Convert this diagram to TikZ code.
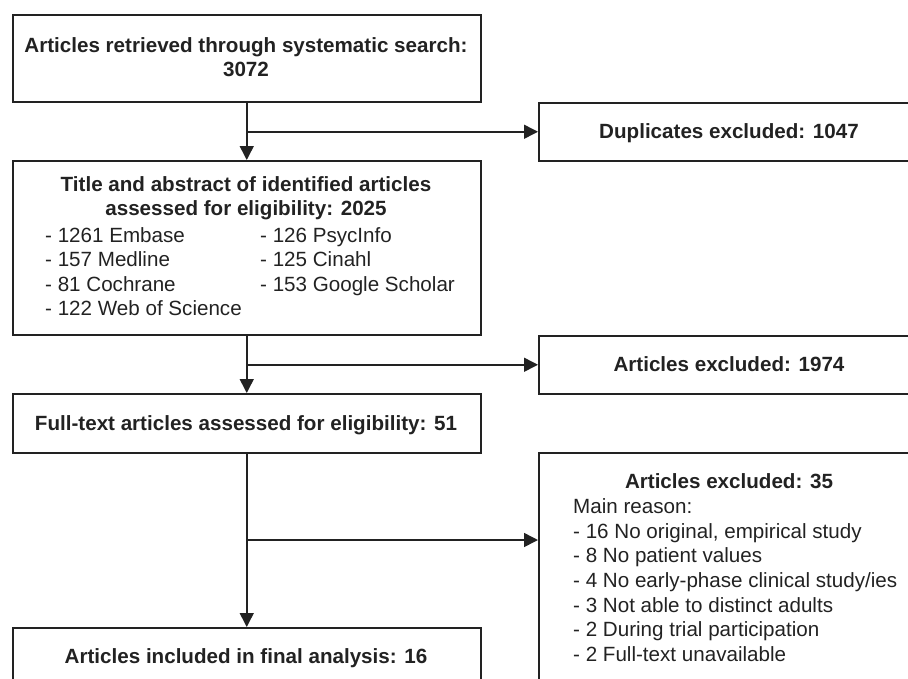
\documentclass[tikz,border=0pt]{standalone}
\usepackage{fontspec}
\setmainfont{Liberation Sans}
\usetikzlibrary{arrows.meta}
\definecolor{ink}{HTML}{222222}
\begin{document}
\begin{tikzpicture}[x=1pt,y=-1pt,
  box/.style={draw=ink, line width=1.5pt, inner sep=0pt, anchor=north west},
  arr/.style={draw=ink, line width=1.5pt, -{Triangle[length=14pt,width=14pt]}},
  bt/.style={font=\fontsize{20.6}{24.4}\selectfont\bfseries, text=ink, anchor=base, inner sep=0pt},
  rt/.style={font=\fontsize{20.6}{24.4}\selectfont, text=ink, anchor=base west, inner sep=0pt}]
\useasboundingbox (0,0) rectangle (908,678);
\clip (0,0) rectangle (908,678);
% boxes
\node[box, minimum width=468pt, minimum height=87pt]  (b1)  at (12,14)  {};
\node[box, minimum width=382pt, minimum height=58pt]  (dup) at (538,102) {};
\node[box, minimum width=468pt, minimum height=174pt] (b2)  at (12,160) {};
\node[box, minimum width=382pt, minimum height=58pt]  (ex1) at (538,335) {};
\node[box, minimum width=468pt, minimum height=59pt]  (b3)  at (12,393) {};
\node[box, minimum width=382pt, minimum height=260pt] (ex2) at (538,452) {};
\node[box, minimum width=468pt, minimum height=80pt]  (b4)  at (12,627) {};
% texts
\node[bt] (t1a) at (246,52) {Articles retrieved through systematic search:};
\node[bt] (t1b) at (246,76) {3072};
\node[bt] (tdup) at (729,138) {Duplicates excluded: 1047};
\node[bt] (t2a) at (246,191) {Title and abstract of identified articles};
\node[bt] (t2b) at (246,215) {assessed for eligibility: 2025};
\node[rt] (l1) at (45,242) {- 1261 Embase};
\node[rt] (l2) at (45,266) {- 157 Medline};
\node[rt] (l3) at (45,291) {- 81 Cochrane};
\node[rt] (l4) at (45,315) {- 122 Web of Science};
\node[rt] (r1) at (260,242) {- 126 PsycInfo};
\node[rt] (r2) at (260,266) {- 125 Cinahl};
\node[rt] (r3) at (260,291) {- 153 Google Scholar};
\node[bt] (tex1) at (729,371) {Articles excluded: 1974};
\node[bt] (t3) at (246,430) {Full-text articles assessed for eligibility: 51};
\node[bt] (tex2) at (729,488) {Articles excluded: 35};
\node[rt] (m0) at (573,513) {Main reason:};
\node[rt] (m1) at (573,538) {- 16 No original, empirical study};
\node[rt] (m2) at (573,562.5) {- 8 No patient values};
\node[rt] (m3) at (573,587) {- 4 No early-phase clinical study/ies};
\node[rt] (m4) at (573,612) {- 3 Not able to distinct adults};
\node[rt] (m5) at (573,636.5) {- 2 During trial participation};
\node[rt] (m6) at (573,661) {- 2 Full-text unavailable};
\node[bt] (t4) at (246,663) {Articles included in final analysis: 16};
% connectors
\draw[arr] (b1.south) -- (b2.north);
\draw[arr] (b1.south |- dup.west) -- (dup.west);
\draw[arr] (b2.south) -- (b3.north);
\draw[arr] (b2.south |- ex1.west) -- (ex1.west);
\draw[arr] (b3.south) -- (b4.north);
\coordinate (j3) at (246,540);
\draw[arr] (j3) -- (j3 -| ex2.west);
\end{tikzpicture}
\end{document}
